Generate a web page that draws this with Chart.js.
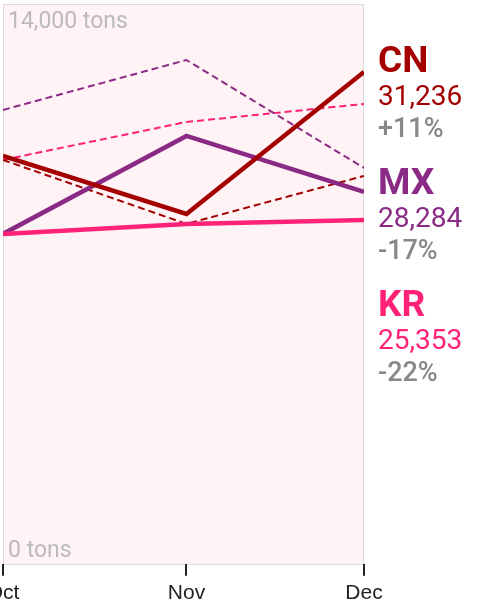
<!DOCTYPE html>
<html>
<head>
<meta charset="utf-8">
<script src="https://cdn.jsdelivr.net/npm/chart.js@4"></script>
<style>
  html, body { margin: 0; padding: 0; background: #fff; overflow: hidden; }
  #wrap { position: relative; width: 481px; height: 604px; overflow: hidden; }
  #chart { position: absolute; left: -27px; top: 0; }
</style>
</head>
<body>
<div id="wrap"><canvas id="chart" width="508" height="612"></canvas></div>
<script>
const months = ["Oct", "Nov", "Dec"];
const monthDates = ["2023-10-01", "2023-11-01", "2023-12-01"];
const countries = ["CN", "MX", "KR"];
const cnThisYear = [10200, 8750, 12300];
const cnLastYear = [10100, 8500, 9700];
const mxThisYear = [8250, 10700, 9300];
const mxLastYear = [11350, 12600, 9900];
const krThisYear = [8250, 8500, 8600];
const krLastYear = [10100, 11050, 11500];
const latestTotals = [31236, 28284, 25353];
const changes = ["+11%", "-17%", "-22%"];
const yTicks = [0, 14000];

const colors = { CN: "#a50000", MX: "#8b2a84", KR: "#ff2277" };
const font = "Roboto, 'Liberation Sans', sans-serif";

// day numbers, so the month spacing follows the calendar like a time axis
const dayOf = monthDates.map(d => Date.parse(d) / 86400000);
const points = values => values.map((v, i) => ({ x: dayOf[i], y: v }));

function solid(label, data, color) {
  return { label, data: points(data), borderColor: color, borderWidth: 4.5, pointRadius: 0, tension: 0, order: 0 };
}
function dashed(label, data, color) {
  return { label, data: points(data), borderColor: color, borderWidth: 2, borderDash: [7, 4], pointRadius: 0, tension: 0, order: 1 };
}

const frame = {
  id: "frame",
  beforeDraw(chart) {
    const { ctx, chartArea: a } = chart;
    ctx.save();
    ctx.fillStyle = "#fff3f6";
    ctx.fillRect(a.left, a.top, a.right - a.left, a.bottom - a.top);
    ctx.strokeStyle = "#dedada";
    ctx.lineWidth = 1;
    ctx.strokeRect(a.left + 0.5, a.top + 0.5, a.right - a.left - 1, a.bottom - a.top);
    // y labels inside the plot
    const y = chart.scales.y;
    ctx.fillStyle = "#bbbbbb";
    ctx.font = "23px " + font;
    ctx.textBaseline = "alphabetic";
    ctx.fillText(yTicks[1].toLocaleString("en-US") + " tons", a.left + 5, y.getPixelForValue(yTicks[1]) + 24);
    ctx.fillText(yTicks[0] + " tons", a.left + 5, y.getPixelForValue(yTicks[0]) - 7);
    ctx.restore();
  },
  afterDraw(chart) {
    const { ctx, chartArea: a } = chart;
    ctx.save();
    ctx.textBaseline = "alphabetic";
    const x = a.right + 14;
    countries.forEach((c, i) => {
      const base = 72 + i * 122;
      ctx.fillStyle = colors[c];
      ctx.font = "bold 37px " + font;
      ctx.fillText(c, x, base);
      ctx.font = "28px " + font;
      ctx.fillText(latestTotals[i].toLocaleString("en-US"), x, base + 33);
      ctx.fillStyle = "#888888";
      ctx.font = "500 27px " + font;
      ctx.fillText(changes[i], x, base + 65);
    });
    ctx.restore();
  }
};

new Chart(document.getElementById("chart"), {
  type: "line",
  data: {
    datasets: [
      solid("KR", krThisYear, colors.KR),
      solid("CN", cnThisYear, colors.CN),
      solid("MX", mxThisYear, colors.MX),
      dashed("CN last year", cnLastYear, colors.CN),
      dashed("MX last year", mxLastYear, colors.MX),
      dashed("KR last year", krLastYear, colors.KR)
    ]
  },
  options: {
    responsive: false,
    animation: false,
    layout: { padding: { left: 30, right: 117, top: 4, bottom: 1 } },
    plugins: { legend: { display: false }, tooltip: { enabled: false } },
    scales: {
      x: {
        type: "linear",
        min: dayOf[0],
        max: dayOf[dayOf.length - 1],
        afterBuildTicks: scale => { scale.ticks = dayOf.map(v => ({ value: v })); },
        border: { display: false },
        grid: { drawOnChartArea: false, drawTicks: true, tickLength: 12, color: "#222", lineWidth: 2 },
        ticks: {
          color: "#222", padding: 5, maxRotation: 0, autoSkip: false,
          font: { size: 21, family: "'Liberation Sans', Arial, sans-serif" },
          callback: (v, i) => months[i]
        }
      },
      y: { display: false, min: yTicks[0], max: yTicks[1] }
    }
  },
  plugins: [frame]
});
</script>
</body>
</html>
